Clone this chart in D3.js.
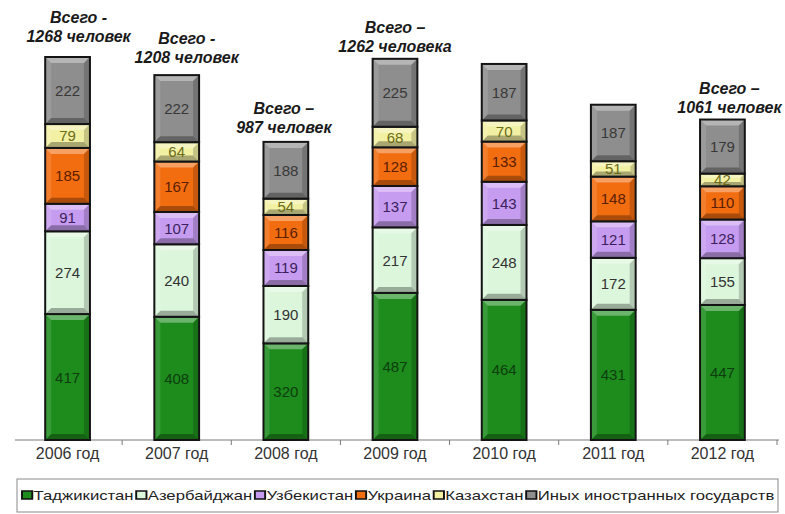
<!DOCTYPE html>
<html>
<head>
<meta charset="utf-8">
<script src="https://cdn.jsdelivr.net/npm/d3@7"></script>
<style>
  body { margin: 0; background: #fff; }
  svg { display: block; font-family: "Liberation Sans", Arial, sans-serif; }
</style>
</head>
<body>
<svg width="785" height="514"></svg>
<script>
// data
const years = ['2006 год', '2007 год', '2008 год', '2009 год', '2010 год', '2011 год', '2012 год']
const countries = ['Таджикистан', 'Азербайджан', 'Узбекистан', 'Украина', 'Казахстан', 'Иных иностранных государств']
const tajikistan = [417, 408, 320, 487, 464, 431, 447]
const azerbaijan = [274, 240, 190, 217, 248, 172, 155]
const uzbekistan = [91, 107, 119, 137, 143, 121, 128]
const ukraine = [185, 167, 116, 128, 133, 148, 110]
const kazakhstan = [79, 64, 54, 68, 70, 51, 42]
const others = [222, 222, 188, 225, 187, 187, 179]
const totalLine1 = ['Всего  -', 'Всего  -', 'Всего –', 'Всего –', null, null, 'Всего –']
const totalLine2 = ['1268 человек', '1208 человек', '987 человек', '1262 человека', null, null, '1061 человек']

// styling
const colors = ['#1d8c1d', '#dcf6dc', '#c69cf0', '#f26d10', '#f2f0a2', '#8e8e8e']
const textColors = ['#0e3d0e', '#333333', '#3c1f5c', '#5a1e00', '#6b6b1a', '#383838']
const labelGap = [15, 12, 9, 7, 0, 0, 7]
const labelDx = [11, 10, -2, 0, 0, 0, 7]

const series = [tajikistan, azerbaijan, uzbekistan, ukraine, kazakhstan, others]
let rows = years.map((y, i) => {
	let r = { year: y }
	countries.forEach((c, k) => { r[c] = series[k][i] })
	return r
})
let stacked = d3.stack().keys(countries)(rows)

let svg = d3.select('svg')

let xScale = d3.scaleBand()
	.domain(years)
	.range([13, 777])
	.paddingInner(0.59)
	.paddingOuter(0.295)

let yScale = d3.scaleLinear()
	.domain([0, 1268])
	.range([440, 57])

let defs = svg.append('defs')

// axis line and boundary ticks
let axisG = svg.append('g').attr('id', 'bottom-axis')
axisG.append('line')
	.attr('x1', 15).attr('x2', 779)
	.attr('y1', yScale(0)).attr('y2', yScale(0))
	.attr('stroke', '#7a7a7a').attr('stroke-width', 1)
let step = xScale.step()
d3.range(1, years.length + 1).forEach(i => {
	let x = xScale.range()[0] + i * step
	axisG.append('line')
		.attr('x1', x).attr('x2', x)
		.attr('y1', yScale(0)).attr('y2', yScale(0) + 5)
		.attr('stroke', '#7a7a7a')
})
axisG.selectAll('text.tick')
	.data(years)
	.enter()
	.append('text')
	.attr('class', 'tick')
	.attr('x', d => xScale(d) + xScale.bandwidth() / 2)
	.attr('y', yScale(0) + 19)
	.attr('text-anchor', 'middle')
	.attr('font-size', 16)
	.attr('fill', '#333')
	.text(d => d)

// bars
let barsG = svg.append('g').attr('id', 'bars')
stacked.forEach((layer, k) => {
	layer.forEach((seg, i) => {
		let x0 = xScale(years[i])
		let x1 = x0 + xScale.bandwidth()
		let yTop = yScale(seg[1])
		let yBot = yScale(seg[0])
		let h = yBot - yTop
		let b = Math.min(6, h / 3)
		let g = barsG.append('g')

		g.append('rect')
			.attr('x', x0).attr('y', yTop)
			.attr('width', x1 - x0).attr('height', h)
			.attr('fill', colors[k])

		let faces = [
			[[x0, yTop], [x1, yTop], [x1 - b, yTop + b], [x0 + b, yTop + b], '#fff', 0.35],
			[[x0, yBot], [x1, yBot], [x1 - b, yBot - b], [x0 + b, yBot - b], '#000', 0.3],
			[[x0, yTop], [x0 + b, yTop + b], [x0 + b, yBot - b], [x0, yBot], '#fff', 0.12],
			[[x1, yTop], [x1 - b, yTop + b], [x1 - b, yBot - b], [x1, yBot], '#000', 0.18]
		]
		faces.forEach(f => {
			g.append('polygon')
				.attr('points', f.slice(0, 4).map(p => p.join(',')).join(' '))
				.attr('fill', f[4])
				.attr('fill-opacity', f[5])
		})

		g.append('rect')
			.attr('x', x0).attr('y', yTop)
			.attr('width', x1 - x0).attr('height', h)
			.attr('fill', 'none')
			.attr('stroke', '#141414')
			.attr('stroke-width', 2)

		let clipId = 'clip-' + k + '-' + i
		defs.append('clipPath').attr('id', clipId)
			.append('rect')
			.attr('x', x0).attr('y', yTop + 1)
			.attr('width', x1 - x0).attr('height', Math.max(0, h - 2))

		g.append('text')
			.attr('clip-path', 'url(#' + clipId + ')')
			.attr('x', (x0 + x1) / 2)
			.attr('y', (yTop + yBot) / 2 + 5.5)
			.attr('text-anchor', 'middle')
			.attr('font-size', 15)
			.attr('fill', textColors[k])
			.text(seg.data[countries[k]])
	})
})

// totals above bars
let totalsG = svg.append('g').attr('id', 'totals')
rows.forEach((r, i) => {
	if (!totalLine1[i]) return
	let total = d3.sum(countries, c => r[c])
	let cx = xScale(years[i]) + xScale.bandwidth() / 2 + labelDx[i]
	let base = yScale(total) - labelGap[i]
	let t = totalsG.append('text')
		.attr('text-anchor', 'middle')
		.attr('font-size', 16)
		.attr('font-weight', 'bold')
		.attr('font-style', 'italic')
		.attr('fill', '#1a1a1a')
	t.append('tspan').attr('x', cx).attr('y', base - 19).text(totalLine1[i])
	t.append('tspan').attr('x', cx).attr('y', base).text(totalLine2[i])
})

// legend
let legendG = svg.append('g').attr('id', 'legend')
legendG.append('rect')
	.attr('x', 17).attr('y', 479)
	.attr('width', 761).attr('height', 33)
	.attr('fill', '#fff')
	.attr('stroke', '#8a8a8a')
let itemsG = legendG.append('g')
let cursor = 0
countries.forEach((c, k) => {
	itemsG.append('rect')
		.attr('x', cursor).attr('y', -9)
		.attr('width', 8).attr('height', 8)
		.attr('fill', colors[k])
		.attr('stroke', '#111')
		.attr('stroke-width', 1.5)
	let t = itemsG.append('text')
		.attr('x', cursor + 9).attr('y', 0)
		.attr('font-size', 13)
		.attr('fill', '#222')
		.text(c)
	cursor += 9 + t.node().getComputedTextLength() + 2
})
let sx = (777 - 22) / cursor
itemsG.attr('transform', 'translate(22,500) scale(' + sx + ',1)')
</script>
</body>
</html>
